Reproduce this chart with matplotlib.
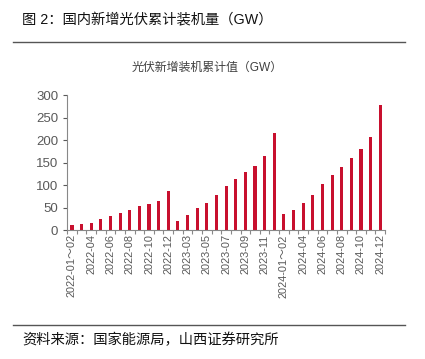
import matplotlib.pyplot as plt
from matplotlib.lines import Line2D

plt.rcParams['font.family'] = ['Liberation Sans', 'Noto Sans CJK SC', 'DejaVu Sans']

# 月份标签（1-2月合并）
months_2022 = ['2022-01～02'] + ['2022-%02d' % m for m in range(3, 13)]
months_2023 = ['2023-01～02'] + ['2023-%02d' % m for m in range(3, 13)]
months_2024 = ['2024-01～02'] + ['2024-%02d' % m for m in range(3, 13)]
months = months_2022 + months_2023 + months_2024

# 累计新增装机 (GW)
cum_2022 = [10.86, 13.21, 16.88, 23.71, 30.88, 37.73, 44.47, 52.60, 58.24, 65.71, 87.41]
cum_2023 = [20.37, 33.66, 48.31, 61.21, 78.42, 97.16, 113.16, 128.94, 142.56, 163.88, 216.88]
cum_2024 = [36.72, 45.74, 60.11, 79.15, 102.48, 123.53, 139.99, 160.88, 181.30, 206.30, 277.57]
values = cum_2022 + cum_2023 + cum_2024

bar_color = '#C8102E'
grey = '#595959'

fig = plt.figure(figsize=(4.25, 3.59), dpi=100)
ax = fig.add_axes([0.158, 0.359, 0.748, 0.376])

x = list(range(len(values)))
ax.bar(x, values, width=0.32, color=bar_color)

ax.set_xlim(-0.5, len(values) - 0.5)
ax.set_ylim(0, 300)
ax.set_yticks(range(0, 301, 50))
ax.tick_params(axis='y', labelsize=9.5, colors=grey, length=3, width=0.8)

# 每隔一个显示标签
ax.set_xticks(x[::2])
ax.set_xticklabels(months[::2], rotation=90, fontsize=7.9, color=grey)
ax.tick_params(axis='x', length=0, pad=3)
ax.set_xticks([i + 0.5 for i in range(-1, len(values))], minor=True)
ax.tick_params(axis='x', which='minor', length=3, width=0.8, color='#888888')

for s in ['top', 'right']:
    ax.spines[s].set_visible(False)
for s in ['left', 'bottom']:
    ax.spines[s].set_color('#888888')
    ax.spines[s].set_linewidth(0.8)

fig.text(0.488, 0.811, '光伏新增装机累计值（GW）', ha='center', va='center',
         fontsize=8.6, color='#404040')

fig.text(0.052, 0.944, '图 2：国内新增光伏累计装机量（GW）', ha='left', va='center',
         fontsize=10.3, color='#111111')
fig.text(0.052, 0.053, '资料来源：国家能源局，山西证券研究所', ha='left', va='center',
         fontsize=10.3, color='#111111')

fig.add_artist(Line2D([0.031, 0.953], [0.883, 0.883], color='#555555', lw=1.0))
fig.add_artist(Line2D([0.031, 0.953], [0.095, 0.095], color='#555555', lw=1.0))

fig.savefig('out.png', dpi=100)
